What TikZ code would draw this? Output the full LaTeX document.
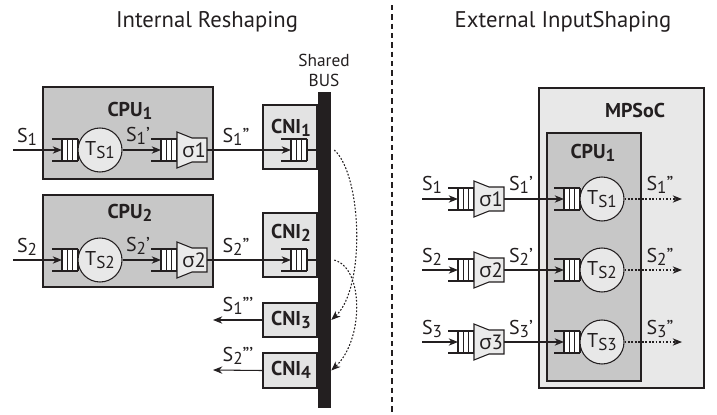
\documentclass[tikz,border=0pt]{standalone}
\usepackage{fontspec}
\setmainfont{PT Sans}
\newfontfamily\grkfont{Open Sans}
\usetikzlibrary{arrows.meta, fit}

\definecolor{ink}{HTML}{231F20}
\newcommand{\sbs}[1]{\raisebox{-0.35ex}{\scalebox{0.86}{#1}}}

\tikzset{
    % queue with three cells, anchored at its right end
    fifo/.pic={
        \fill[white] (-16,-11) rectangle (0,11);
        \draw[draw=ink, line width=0.8pt] (-26,-11) -- (0,-11) (-26,11) -- (0,11);
        \foreach \c in {0,...,3} \draw[draw=ink, line width=0.8pt] ({-16/3*\c},-11) -- ({-16/3*\c},11);
        \coordinate (-tip) at (-16,0);
        \coordinate (-out) at (0,0);
    },
    % traffic shaper, anchored at its left edge
    shaper/.pic={
        \draw[draw=ink, line width=0.8pt, fill=black!8] (0,-18) -- (15,-12) -- (30,-12) -- (30,12) -- (15,12) -- (0,18) -- cycle;
        \node[text=ink, font=\fontsize{15.5}{17}\selectfont, inner sep=0pt] (-lbl) at (17,0) {{\grkfont σ}#1};
        \coordinate (-out) at (30,0);
    }
}

\begin{document}
\begin{tikzpicture}[
    x=0.75pt, y=-0.75pt,
    >={Stealth[length=7pt, width=5.5pt]},
    cpubox/.style={draw=ink, line width=0.9pt, fill=black!22, inner sep=0pt},
    socbox/.style={draw=ink, line width=0.9pt, fill=black!9, inner sep=0pt},
    cnibox/.style={draw=ink, line width=0.9pt, fill=black!11, inner sep=0pt},
    busbar/.style={fill=ink, inner sep=0pt},
    proc/.style={draw=ink, circle, line width=0.8pt, fill=black!9, minimum size=33pt, inner sep=0pt, text=ink, font=\fontsize{15}{17}\selectfont},
    txt/.style={text=ink, font=\fontsize{15}{17}\selectfont, inner sep=0pt},
    head/.style={text=ink, font=\fontsize{15}{17}\selectfont\bfseries, inner sep=0pt},
    ttl/.style={text=ink, font=\fontsize{17}{20}\selectfont, inner sep=0pt},
    sig/.style={->, draw=ink, line width=0.8pt},
    dots/.style={->, draw=ink, line width=0.8pt, dash pattern=on 1.3pt off 1.3pt}
]
\useasboundingbox (0,0) rectangle (717,414);

% 1. Titles and divider
\node[ttl] (titleL) at (207,22) {Internal Reshaping};
\node[ttl] (titleR) at (563,22) {External InputShaping};
\coordinate (divtop) at (392,5);
\coordinate (divbot) at (392,414);
\draw[draw=ink, line width=1.3pt, dash pattern=on 4pt off 3pt] (divtop) -- (divbot);

% 2. Internal reshaping: CPU boxes
\node[cpubox, fit={(43,87) (213,179)}] (cpuA) {};
\node[head] (cpuAlbl) at (130,111) {CPU\sbs{1}};
\node[cpubox, fit={(43,195) (213,287)}] (cpuB) {};
\node[head] (cpuBlbl) at (130,213) {CPU\sbs{2}};

% 3. Shared bus and network interfaces
\node[busbar, fit={(318,92) (331,408)}] (bus) {};
\node[txt, align=center, font=\fontsize{13}{15}\selectfont] (buslbl) at (324,70) {Shared\\BUS};
\node[cnibox, fit={(263,105) (317,169)}] (cniA) {};
\node[head] (cniAlbl) at (291,128) {CNI\sbs{1}};
\node[cnibox, fit={(263,213) (317,277)}] (cniB) {};
\node[head] (cniBlbl) at (291,233) {CNI\sbs{2}};
\node[cnibox, fit={(263,303) (317,337)}] (cniC) {};
\node[head] (cniClbl) at (291,320) {CNI\sbs{3}};
\node[cnibox, fit={(263,353) (317,388)}] (cniD) {};
\node[head] (cniDlbl) at (291,370) {CNI\sbs{4}};

% 4. Stream 1 through CPU1
\coordinate (inA) at (13,150);
\pic (qA1) at (78,150) {fifo};
\node[proc] (tA) at (100,150) {T\sbs{S1}};
\pic (qA2) at (177,150) {fifo};
\pic (sA) at (177,150) {shaper=1};
\pic (qA3) at (307,150) {fifo};
\draw[sig] (inA) -- (qA1-tip);
\draw[sig] (tA.east) -- (qA2-tip);
\draw[sig] (sA-out) -- (qA3-tip);
\draw[draw=ink, line width=0.8pt] (qA3-out) -- (qA3-out -| bus.west);
\node[txt] (sA0) at (27,137) {S\sbs{1}};
\node[txt] (sA1) at (138,136) {S\sbs{1}'};
\node[txt] (sA2) at (236,137) {S\sbs{1}''};

% 5. Stream 2 through CPU2
\coordinate (inB) at (13,260);
\pic (qB1) at (78,260) {fifo};
\node[proc] (tB) at (100,260) {T\sbs{S2}};
\pic (qB2) at (177,260) {fifo};
\pic (sB) at (177,260) {shaper=2};
\pic (qB3) at (307,260) {fifo};
\draw[sig] (inB) -- (qB1-tip);
\draw[sig] (tB.east) -- (qB2-tip);
\draw[sig] (sB-out) -- (qB3-tip);
\draw[draw=ink, line width=0.8pt] (qB3-out) -- (qB3-out -| bus.west);
\node[txt] (sB0) at (27,247) {S\sbs{2}};
\node[txt] (sB1) at (138,246) {S\sbs{2}'};
\node[txt] (sB2) at (236,247) {S\sbs{2}''};

% 6. Outputs and transfers over the bus
\coordinate (outC) at (213,320);
\coordinate (outD) at (213,370);
\draw[sig] (cniC.west) -- (outC);
\draw[sig] (cniD.west) -- (outD);
\node[txt] (sC) at (238,306) {S\sbs{1}'''};
\node[txt] (sD) at (238,356) {S\sbs{2}'''};
\draw[dots] (qA3-out -| bus.east) ++(3,0) .. controls (362,175) and (366,288) .. (cniC.east -| bus.east);
\draw[dots] (qB3-out -| bus.east) ++(3,0) .. controls (364,268) and (364,340) .. (cniD.east -| bus.east);

% 7. External input shaping: MPSoC and CPU
\node[socbox, fit={(539,88) (704,388)}] (soc) {};
\node[head] (soclbl) at (635,110) {MPSoC};
\node[cpubox, fit={(547,133) (641,381)}] (cpuR) {};
\node[head] (cpuRlbl) at (593,153) {CPU\sbs{1}};

% 8. Shaped streams
\coordinate (inR1) at (422,199);
\pic (pR1) at (474,199) {fifo};
\pic (sR1) at (474,199) {shaper=1};
\pic (qR1) at (580,199) {fifo};
\node[proc] (tR1) at (602,199) {T\sbs{S1}};
\coordinate (outR1) at (682,199);
\draw[sig] (inR1) -- (pR1-tip);
\draw[sig] (sR1-out) -- (qR1-tip);
\draw[dots] (tR1.east) -- (outR1);
\node[txt] (sR1a) at (432,185) {S\sbs{1}};
\node[txt] (sR1b) at (521,185) {S\sbs{1}'};
\node[txt] (sR1c) at (660,185) {S\sbs{1}''};

\coordinate (inR2) at (422,270);
\pic (pR2) at (474,270) {fifo};
\pic (sR2) at (474,270) {shaper=2};
\pic (qR2) at (580,270) {fifo};
\node[proc] (tR2) at (602,270) {T\sbs{S2}};
\coordinate (outR2) at (682,270);
\draw[sig] (inR2) -- (pR2-tip);
\draw[sig] (sR2-out) -- (qR2-tip);
\draw[dots] (tR2.east) -- (outR2);
\node[txt] (sR2a) at (432,257) {S\sbs{2}};
\node[txt] (sR2b) at (521,257) {S\sbs{2}'};
\node[txt] (sR2c) at (660,257) {S\sbs{2}''};

\coordinate (inR3) at (422,342);
\pic (pR3) at (474,342) {fifo};
\pic (sR3) at (474,342) {shaper=3};
\pic (qR3) at (580,342) {fifo};
\node[proc] (tR3) at (602,342) {T\sbs{S3}};
\coordinate (outR3) at (682,342);
\draw[sig] (inR3) -- (pR3-tip);
\draw[sig] (sR3-out) -- (qR3-tip);
\draw[dots] (tR3.east) -- (outR3);
\node[txt] (sR3a) at (432,329) {S\sbs{3}};
\node[txt] (sR3b) at (521,329) {S\sbs{3}'};
\node[txt] (sR3c) at (660,329) {S\sbs{3}''};

\end{tikzpicture}
\end{document}
